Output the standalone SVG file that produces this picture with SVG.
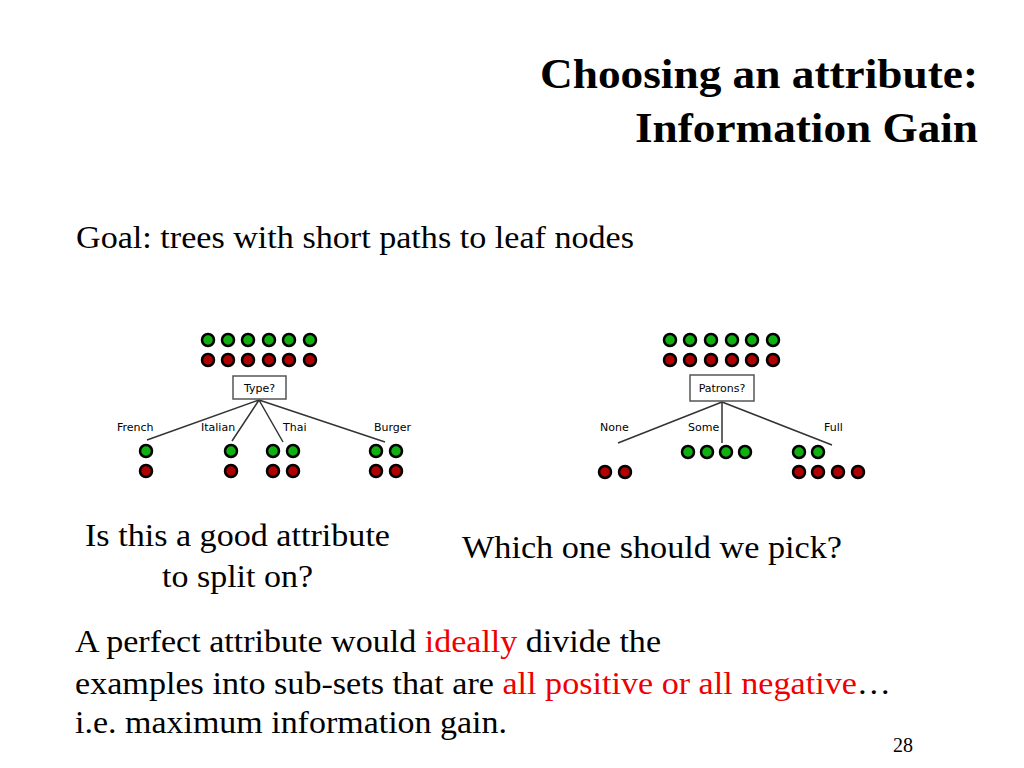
<svg xmlns="http://www.w3.org/2000/svg" width="1024" height="768" viewBox="0 0 1024 768">
<style>
.t{font-family:"Liberation Serif",serif;fill:#000}
.s{font-family:"DejaVu Sans","Liberation Sans",sans-serif;font-size:11px;fill:#000}
.g{fill:#10b010;stroke:#000;stroke-width:2.5}
.r{fill:#b00000;stroke:#000;stroke-width:2.5}
.l{stroke:#333;stroke-width:1.5;fill:none}
.b{fill:#fff;stroke:#555;stroke-width:1.5}
.red{fill:#ee0000}
</style>
<rect width="1024" height="768" fill="#fff"/>
<text class="t" x="540" y="88" font-size="42" font-weight="bold" textLength="438" lengthAdjust="spacingAndGlyphs">Choosing an attribute:</text>
<text class="t" x="635" y="142" font-size="42" font-weight="bold" textLength="343" lengthAdjust="spacingAndGlyphs">Information Gain</text>
<text class="t" x="76" y="248" font-size="32" textLength="558" lengthAdjust="spacingAndGlyphs">Goal: trees with short paths to leaf nodes</text>
<g id="connectors">
<path class="l" d="M259,400 L147,440 M259,400 L232,441 M259,400 L283,442 M259,400 L385,442"/>
<path class="l" d="M722,402 L618,443 M722,402 L722,443 M722,402 L832,445"/>
</g>
<g id="tree1">
<g id="t1top">
<circle class="g" cx="208" cy="340" r="6"/><circle class="g" cx="228" cy="340" r="6"/><circle class="g" cx="248" cy="340" r="6"/><circle class="g" cx="269" cy="340" r="6"/><circle class="g" cx="289" cy="340" r="6"/><circle class="g" cx="310" cy="340" r="6"/>
<circle class="r" cx="208" cy="360" r="6"/><circle class="r" cx="228" cy="360" r="6"/><circle class="r" cx="248" cy="360" r="6"/><circle class="r" cx="269" cy="360" r="6"/><circle class="r" cx="289" cy="360" r="6"/><circle class="r" cx="310" cy="360" r="6"/>
</g>
<g id="type"><rect class="b" x="233" y="376" width="53" height="23"/><text class="s" x="259.5" y="392" text-anchor="middle" font-size="12">Type?</text></g>
<text class="s" x="117" y="431">French</text><text class="s" x="201" y="431">Italian</text><text class="s" x="283" y="431">Thai</text><text class="s" x="374" y="431">Burger</text>
<g id="t1leaves">
<circle class="g" cx="146" cy="451" r="6"/><circle class="r" cx="146" cy="471" r="6"/>
<circle class="g" cx="231" cy="451" r="6"/><circle class="r" cx="231" cy="471" r="6"/>
<circle class="g" cx="273" cy="451" r="6"/><circle class="g" cx="293" cy="451" r="6"/><circle class="r" cx="273" cy="471" r="6"/><circle class="r" cx="293" cy="471" r="6"/>
<circle class="g" cx="376" cy="451" r="6"/><circle class="g" cx="396" cy="451" r="6"/><circle class="r" cx="376" cy="471" r="6"/><circle class="r" cx="396" cy="471" r="6"/>
</g>
</g>
<g id="tree2">
<g id="t2top">
<circle class="g" cx="670" cy="340" r="6"/><circle class="g" cx="690" cy="340" r="6"/><circle class="g" cx="711" cy="340" r="6"/><circle class="g" cx="732" cy="340" r="6"/><circle class="g" cx="752" cy="340" r="6"/><circle class="g" cx="773" cy="340" r="6"/>
<circle class="r" cx="670" cy="360" r="6"/><circle class="r" cx="690" cy="360" r="6"/><circle class="r" cx="711" cy="360" r="6"/><circle class="r" cx="732" cy="360" r="6"/><circle class="r" cx="752" cy="360" r="6"/><circle class="r" cx="773" cy="360" r="6"/>
</g>
<g id="patrons"><rect class="b" x="690" y="375" width="64" height="26"/><text class="s" x="722" y="392" text-anchor="middle" font-size="12">Patrons?</text></g>
<text class="s" x="600" y="431">None</text><text class="s" x="688" y="431">Some</text><text class="s" x="824" y="431">Full</text>
<g id="t2leaves">
<circle class="r" cx="605" cy="472" r="6"/><circle class="r" cx="625" cy="472" r="6"/>
<circle class="g" cx="688" cy="452" r="6"/><circle class="g" cx="707" cy="452" r="6"/><circle class="g" cx="726" cy="452" r="6"/><circle class="g" cx="745" cy="452" r="6"/>
<circle class="g" cx="799" cy="452" r="6"/><circle class="g" cx="818" cy="452" r="6"/>
<circle class="r" cx="799" cy="472" r="6"/><circle class="r" cx="818" cy="472" r="6"/><circle class="r" cx="838" cy="472" r="6"/><circle class="r" cx="858" cy="472" r="6"/>
</g>
</g>
<text class="t" x="85" y="546" font-size="32" textLength="305" lengthAdjust="spacingAndGlyphs">Is this a good attribute</text>
<text class="t" x="162" y="587" font-size="32" textLength="151" lengthAdjust="spacingAndGlyphs">to split on?</text>
<text class="t" x="462" y="558" font-size="32" textLength="380" lengthAdjust="spacingAndGlyphs">Which one should we pick?</text>
<text class="t" x="75" y="652" font-size="32" textLength="586" lengthAdjust="spacingAndGlyphs">A perfect attribute would <tspan class="red">ideally</tspan> divide the</text>
<text class="t" x="75" y="694" font-size="32" textLength="816" lengthAdjust="spacingAndGlyphs">examples into sub-sets that are <tspan class="red">all positive or all negative</tspan>…</text>
<text class="t" x="75" y="733" font-size="32" textLength="432" lengthAdjust="spacingAndGlyphs">i.e. maximum information gain.</text>
<text class="t" x="893" y="752" font-size="20">28</text>
</svg>
